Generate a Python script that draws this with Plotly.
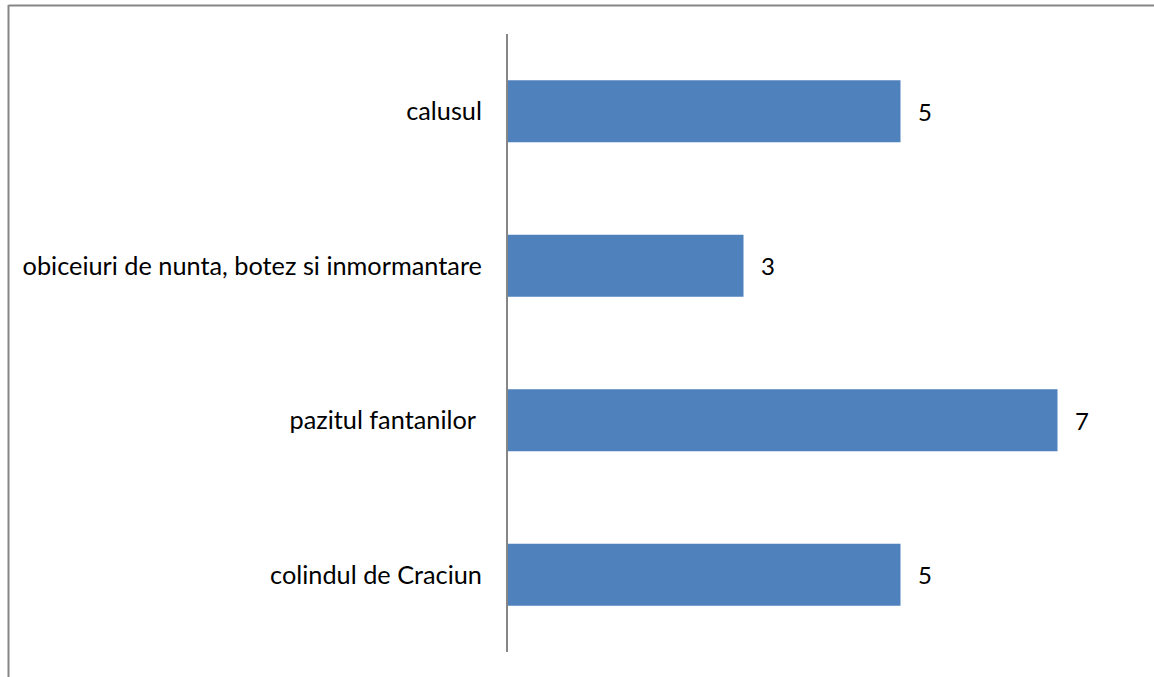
import plotly.graph_objects as go

categories = ["colindul de Craciun", "pazitul fantanilor ", "obiceiuri de nunta, botez si inmormantare", "calusul"]
values = [5, 7, 3, 5]

W, H = 1154, 677
L, R, T, B = 508, 18, 34, 25
pw = W - L - R
ph = H - T - B
FONT = "Lato, Carlito, sans-serif"

fig = go.Figure(go.Bar(
    x=values, y=categories, orientation="h",
    marker=dict(color="#4F81BD", line=dict(width=0)),
    hoverinfo="skip",
))

for v, c in zip(values, categories):
    fig.add_annotation(x=v, y=c, text=str(v), showarrow=False,
                       xanchor="left", xshift=15, yshift=0,
                       font=dict(family=FONT, size=24, color="#000000"))

def px_x(p):
    return (p - L) / pw

def px_y(p):
    return 1 - (p - T) / ph

# frame: left and top lines
fig.add_shape(type="line", xref="paper", yref="paper",
              x0=px_x(8.5), x1=px_x(8.5), y0=px_y(5), y1=px_y(H + 5),
              line=dict(color="#868686", width=2))
fig.add_shape(type="line", xref="paper", yref="paper",
              x0=px_x(8.5), x1=px_x(W + 5), y0=px_y(5.5), y1=px_y(5.5),
              line=dict(color="#868686", width=2))

fig.update_layout(
    width=W, height=H,
    margin=dict(l=L, r=R, t=T, b=B, autoexpand=False),
    paper_bgcolor="white", plot_bgcolor="white",
    bargap=0.6,
    showlegend=False,
    font=dict(family=FONT, size=25.3, color="#000000"),
    xaxis=dict(range=[0, 8], visible=False, showgrid=False, zeroline=False),
    yaxis=dict(showline=True, linecolor="#868686", linewidth=2, ticks="",
               showgrid=False, zeroline=False, ticklabelstandoff=19,
               tickfont=dict(family=FONT, size=25.3, color="#000000")),
)

fig.write_html("out.html", config={"displayModeBar": False},
               post_script="document.body.style.margin='0';document.body.style.overflow='hidden';")
